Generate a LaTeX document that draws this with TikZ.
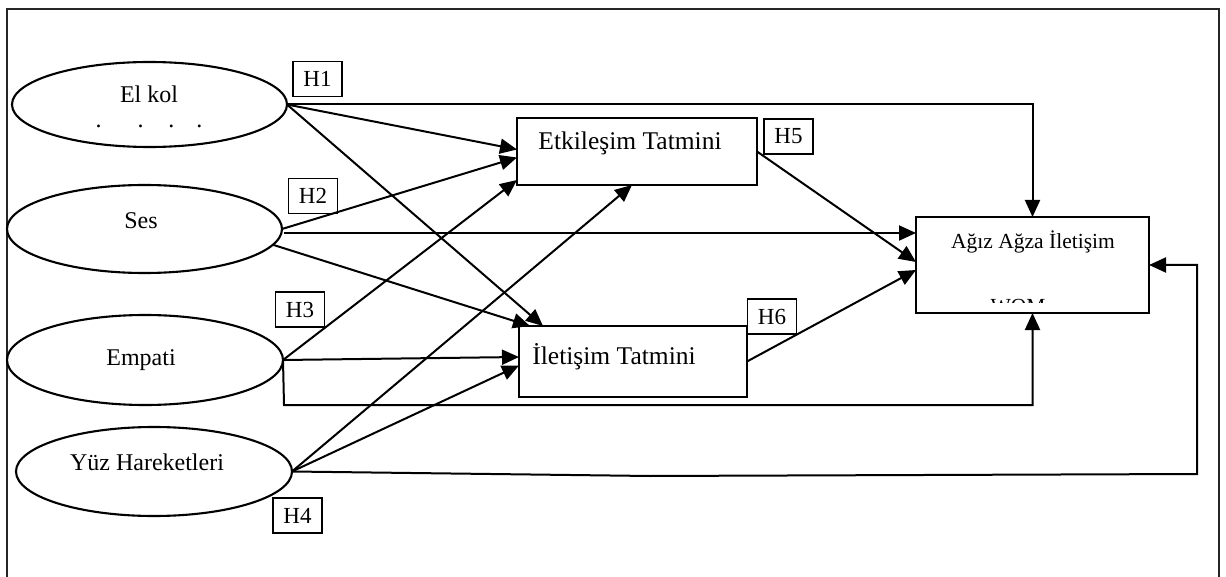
\documentclass[tikz,border=0pt]{standalone}
\usepackage{fontspec}
\setmainfont{Liberation Serif}
\usetikzlibrary{arrows.meta,calc,shapes.geometric}
\begin{document}
\begin{tikzpicture}[x=1pt,y=-1pt,
  every node/.style={font=\fontsize{23}{27}\selectfont, inner sep=0pt, outer sep=0pt},
  ell/.style={draw, ellipse, line width=2.1pt},
  box/.style={draw, rectangle, line width=2.2pt},
  hbox/.style={draw, rectangle, line width=1.6pt, minimum width=49pt, minimum height=35pt},
  lbl/.style={anchor=base},
  elfont/.style={font=\fontsize{24}{28}\selectfont},
  boxfont/.style={font=\fontsize{25.5}{30}\selectfont},
  womfont/.style={font=\fontsize{21.5}{26}\selectfont},
  arr/.style={line width=2pt, -{Triangle[length=17pt,width=15pt]}},
  frame/.style={line width=2.4pt, black!85}]
\useasboundingbox (0,0) rectangle (1226,577);
\draw[frame] (7,585) -- (7,9) -- (1219,9) -- (1219,585);

% ellipses
\node[ell, minimum width=275pt, minimum height=85pt] (elkol) at (149.5,104.5) {};
\node[ell, minimum width=275pt, minimum height=88pt] (ses) at (144.5,229) {};
\node[ell, minimum width=276pt, minimum height=90pt] (empati) at (145,360) {};
\node[ell, minimum width=276pt, minimum height=89pt] (yuz) at (154,471.5) {};

\node[lbl, elfont] (elkolt) at (149,103) {El kol};
\node[lbl, elfont] (elkold) at (149,128) {.\hspace{36pt}.\hspace{25pt}.\hspace{22pt}.};
\node[lbl, elfont] (sest) at (141,229) {Ses};
\node[lbl, elfont] (empatit) at (141,365) {Empati};
\node[lbl, elfont] (yuzt) at (147,470) {Yüz Hareketleri};

% boxes
\node[box, minimum width=240pt, minimum height=67pt] (etk) at (637,151.5) {};
\node[lbl, boxfont] (etkt) at (630,150) {Etkileşim Tatmini};
\node[box, minimum width=228pt, minimum height=71pt] (ilet) at (633,361.5) {};
\node[lbl, boxfont] (iletT) at (614,364) {İletişim Tatmini};
\node[box, minimum width=233pt, minimum height=96pt] (wom) at (1032.5,265) {};
\node[lbl, womfont] (womt) at (1033,249) {Ağız Ağza İletişim};
\begin{scope}
  \clip (920,290) rectangle (1145,303);
  \node[lbl, womfont] (womw) at (1018,313) {WOM};
\end{scope}

% hypothesis labels
\node[hbox] (h1) at (317.5,79) {H1};
\node[hbox] (h2) at (313,196) {H2};
\node[hbox] (h3) at (300,309.5) {H3};
\node[hbox] (h4) at (297.5,515.5) {H4};
\node[hbox] (h5) at (788.5,136.5) {H5};
\node[hbox] (h6) at (772,316.5) {H6};

% connectors from El kol
\draw[arr] (elkol.east) -- ($(etk.west)+(0,-2)$);
\draw[arr] (elkol.east) -- ($(ilet.north west)+(24,0)$);
\draw[arr] (elkol.east) -| (wom.north);

% from Ses
\draw[arr] (ses.east) -- ($(etk.west)+(0,6)$);
\draw[arr] ($(ses.east)+(2,4)$) -- ($(ses.east -| wom.west)+(0,4)$);
\draw[arr] (ses.-7) -- ($(ilet.north west)+(11,0)$);

% from Empati
\draw[arr] (empati.east) -- ($(etk.south west)+(0,-5)$);
\draw[arr] (empati.east) -- ($(empati.east -| ilet.west)+(0,-3)$);
\draw[arr] (empati.east) -- ++(1,45) -| (wom.south);

% from Yuz Hareketleri
\draw[arr] (yuz.east) -- ($(etk.south)+(-5,0)$);
\draw[arr] (yuz.east) -- ($(ilet.west)+(0,4)$);
\draw[arr] (yuz.east) -- (650,476) -- (1197,474) |- (wom.east);

% mediators
\draw[arr] (etk.east) -- ($(wom.west)+(0,-3)$);
\draw[arr] (ilet.east) -- ($(wom.west)+(0,5)$);
\end{tikzpicture}
\end{document}
